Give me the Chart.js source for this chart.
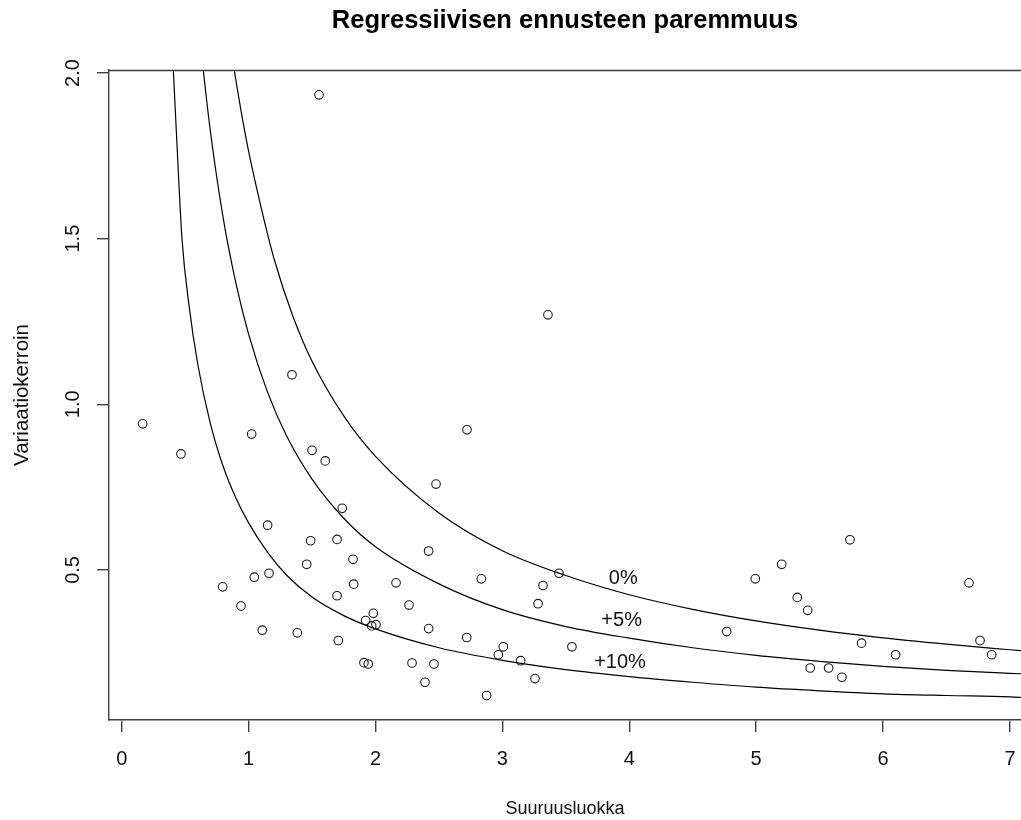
<!DOCTYPE html>
<html>
<head>
<meta charset="utf-8">
<title>Regressiivisen ennusteen paremmuus</title>
<script src="https://cdn.jsdelivr.net/npm/chart.js@4.4.0/dist/chart.umd.min.js"></script>
<style>
  html, body { margin: 0; padding: 0; background: #fff; overflow: hidden; }
  canvas { display: block; }
</style>
</head>
<body>
<canvas id="chart" width="1021" height="820"></canvas>
<script>
// Observations (Suuruusluokka, Variaatiokerroin)
const pointX = [0.165, 0.467, 1.555, 3.359, 1.342, 2.721, 1.024, 1.500, 1.604, 2.477,
                1.738, 1.150, 1.489, 1.697, 2.419, 1.823, 1.458, 1.045, 1.161, 0.796,
                0.940, 1.697, 1.828, 2.162, 2.264, 1.983, 1.923, 1.970, 2.004, 1.108,
                1.384, 1.707, 2.419, 1.909, 1.943, 2.288, 2.461, 2.390, 2.834, 3.446,
                3.320, 3.281, 2.719, 3.007, 2.968, 3.144, 3.548, 3.257, 2.876, 4.768,
                4.993, 5.201, 5.324, 5.406, 5.426, 5.571, 5.676, 5.739, 5.831, 6.099,
                6.677, 6.764, 6.856];
const pointY = [0.941, 0.850, 1.934, 1.270, 1.089, 0.923, 0.910, 0.861, 0.829, 0.759,
                0.686, 0.635, 0.588, 0.592, 0.557, 0.532, 0.517, 0.478, 0.490, 0.449,
                0.391, 0.422, 0.457, 0.461, 0.394, 0.369, 0.347, 0.331, 0.335, 0.318,
                0.310, 0.287, 0.323, 0.220, 0.216, 0.219, 0.216, 0.161, 0.473, 0.490,
                0.453, 0.398, 0.296, 0.268, 0.244, 0.226, 0.268, 0.172, 0.121, 0.314,
                0.473, 0.517, 0.417, 0.378, 0.204, 0.204, 0.176, 0.591, 0.279, 0.244,
                0.461, 0.287, 0.244];

// Reference curves
const curve0X = [0.85, 0.887, 0.95, 1.0, 1.1, 1.2, 1.35, 1.5, 1.75, 2.0, 2.5, 3.0, 3.5, 4.0, 4.5, 5.0, 5.5, 6.0, 6.5, 7.0, 7.12];
const curve0Y = [2.10, 2.009, 1.865, 1.764, 1.592, 1.44, 1.265, 1.13, 0.965, 0.843, 0.672, 0.558, 0.483, 0.425, 0.381, 0.346, 0.318, 0.295, 0.276, 0.259, 0.255];
const curve5X = [0.62, 0.643, 0.7, 0.8, 0.9, 1.0, 1.15, 1.3, 1.5, 1.75, 2.0, 2.5, 3.0, 3.5, 4.0, 4.5, 5.0, 5.5, 6.0, 6.5, 7.0, 7.12];
const curve5Y = [2.096, 2.009, 1.821, 1.562, 1.366, 1.212, 1.036, 0.904, 0.774, 0.656, 0.570, 0.458, 0.380, 0.329, 0.294, 0.265, 0.242, 0.224, 0.209, 0.197, 0.188, 0.186];
const curve10X = [0.39, 0.407, 0.44, 0.475, 0.53, 0.6, 0.7, 0.8, 0.9, 1.0, 1.15, 1.3, 1.5, 1.75, 2.0, 2.5, 3.0, 3.5, 4.0, 4.5, 5.0, 5.5, 6.0, 6.5, 7.0, 7.12];
const curve10Y = [2.15, 2.009, 1.75, 1.50, 1.30, 1.12, 0.94, 0.812, 0.717, 0.642, 0.553, 0.484, 0.418, 0.362, 0.322, 0.265, 0.227, 0.199, 0.178, 0.161, 0.146, 0.135, 0.126, 0.121, 0.117, 0.114];

// Curve labels and where they sit (data units)
const curveNames = ['0%', '+5%', '+10%'];
const curveLabelX = [3.953, 3.940, 3.927];
const curveLabelY = [0.473, 0.346, 0.221];

const xTicks = [0, 1, 2, 3, 4, 5, 6, 7];
const yTicks = [0.5, 1.0, 1.5, 2.0];

const FONT = '"Liberation Sans", Arial, sans-serif';
const axisColor = '#404040';
const textColor = '#111';

const toPoints = (xs, ys) => xs.map((x, i) => ({ x: x, y: ys[i] }));

function curveDataset(xs, ys) {
    return {
        data: toPoints(xs, ys),
        showLine: true,
        pointRadius: 0,
        borderColor: '#000',
        borderWidth: 1.2,
        fill: false,
        cubicInterpolationMode: 'monotone'
    };
}

// top edge of the box + the percentage labels next to the curves
const boxAndLabels = {
    id: 'boxAndLabels',
    afterDraw(chart) {
        const { ctx, chartArea, scales } = chart;
        ctx.save();
        ctx.strokeStyle = axisColor;
        ctx.lineWidth = 1.4;
        ctx.beginPath();
        ctx.moveTo(chartArea.left, Math.round(chartArea.top) + 0.5);
        ctx.lineTo(chartArea.right, Math.round(chartArea.top) + 0.5);
        ctx.stroke();

        ctx.font = '20px ' + FONT;
        ctx.fillStyle = textColor;
        ctx.textAlign = 'center';
        ctx.textBaseline = 'middle';
        curveNames.forEach((name, i) => {
            ctx.fillText(name, scales.x.getPixelForValue(curveLabelX[i]), scales.y.getPixelForValue(curveLabelY[i]));
        });
        ctx.restore();
    }
};

new Chart(document.getElementById('chart'), {
    type: 'scatter',
    data: {
        datasets: [
            {
                data: toPoints(pointX, pointY),
                pointStyle: 'circle',
                pointRadius: 4.3,
                pointBorderWidth: 1.1,
                pointBorderColor: '#1a1a1a',
                pointBackgroundColor: 'rgba(0,0,0,0)'
            },
            curveDataset(curve0X, curve0Y),
            curveDataset(curve5X, curve5Y),
            curveDataset(curve10X, curve10Y)
        ]
    },
    options: {
        responsive: false,
        animation: false,
        events: [],
        layout: { padding: 0, autoPadding: false },
        scales: {
            x: {
                type: 'linear',
                min: -0.1,
                max: 7.087,
                afterBuildTicks: s => { s.ticks = xTicks.map(v => ({ value: v })); },
                afterFit: s => { s.height = 100; s.paddingLeft = 0; s.paddingRight = 0; },
                border: { display: true, color: axisColor, width: 1.4 },
                grid: { display: true, drawOnChartArea: false, drawTicks: true, tickLength: 12, color: axisColor, lineWidth: 1.4 },
                ticks: { maxRotation: 0, minRotation: 0, padding: 15, color: textColor, font: { family: FONT, size: 20 } },
                title: { display: true, text: 'Suuruusluokka', color: textColor, font: { family: FONT, size: 18 }, padding: { top: 0, bottom: 0 } }
            },
            y: {
                type: 'linear',
                min: 0.047,
                max: 2.009,
                afterBuildTicks: s => { s.ticks = yTicks.map(v => ({ value: v })); },
                afterFit: s => { s.width = 109; s.paddingTop = 0; s.paddingBottom = 0; },
                border: { display: true, color: axisColor, width: 1.4 },
                grid: { display: true, drawOnChartArea: false, drawTicks: true, tickLength: 12, color: axisColor, lineWidth: 1.4 },
                ticks: {
                    minRotation: 90, maxRotation: 90, crossAlign: 'center', padding: 10,
                    color: textColor, font: { family: FONT, size: 20 },
                    callback: v => Number(v).toFixed(1)
                },
                title: { display: true, text: 'Variaatiokerroin', color: textColor, font: { family: FONT, size: 20.5 }, padding: { top: 10, bottom: 0 } }
            }
        },
        plugins: {
            legend: { display: false },
            tooltip: { enabled: false },
            title: {
                display: true,
                fullSize: false,
                text: 'Regressiivisen ennusteen paremmuus',
                color: '#000',
                font: { family: FONT, size: 25.5, weight: 'bold' },
                padding: { top: 6, bottom: 33.4 }
            }
        }
    },
    plugins: [boxAndLabels]
});
</script>
</body>
</html>
